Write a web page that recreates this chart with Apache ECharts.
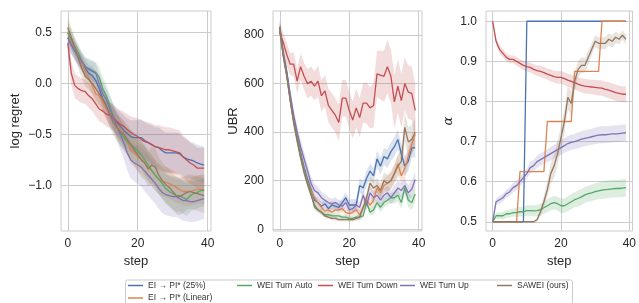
<!DOCTYPE html>
<html>
<head>
<meta charset="utf-8">
<script src="https://cdn.jsdelivr.net/npm/echarts@6/dist/echarts.min.js"></script>
<style>
  html, body { margin: 0; padding: 0; background: #fff; }
  #main { width: 639px; height: 303px; }
</style>
</head>
<body>
<div id="main"></div>
<script>
// steps 0..39
var steps = [0,1,2,3,4,5,6,7,8,9,10,11,12,13,14,15,16,17,18,19,20,21,22,23,24,25,26,27,28,29,30,31,32,33,34,35,36,37,38,39];
var names = ['EI \u2192 PI* (25%)', 'EI \u2192 PI* (Linear)', 'WEI Turn Auto', 'WEI Turn Down', 'WEI Turn Up', 'SAWEI (ours)'];
var colors = ['#4C72B0', '#DD8452', '#55A868', '#C44E52', '#8172B3', '#937860'];

// log regret (mean)
var regretEI25 = [0.45,0.38,0.32,0.26,0.2,0.15,0.1,0.08,0.03,-0.05,-0.15,-0.22,-0.3,-0.33,-0.38,-0.42,-0.46,-0.49,-0.52,-0.53,-0.53,-0.53,-0.56,-0.58,-0.6,-0.62,-0.63,-0.66,-0.68,-0.68,-0.68,-0.68,-0.69,-0.72,-0.74,-0.75,-0.76,-0.78,-0.79,-0.8];
var regretEILin = [0.5,0.42,0.34,0.27,0.2,0.12,0.05,-0.02,-0.1,-0.12,-0.18,-0.25,-0.3,-0.35,-0.4,-0.45,-0.5,-0.58,-0.65,-0.68,-0.72,-0.74,-0.78,-0.82,-0.86,-0.9,-0.94,-0.96,-0.97,-0.98,-1.0,-1.02,-1.04,-1.06,-1.06,-1.06,-1.05,-1.04,-1.04,-1.04];
var regretAuto = [0.5,0.43,0.36,0.3,0.22,0.16,0.15,0.13,0.11,0.06,-0.05,-0.12,-0.22,-0.32,-0.42,-0.48,-0.53,-0.57,-0.6,-0.63,-0.66,-0.7,-0.75,-0.8,-0.85,-0.9,-0.94,-0.98,-1.03,-1.06,-1.08,-1.1,-1.1,-1.12,-1.14,-1.1,-1.08,-1.07,-1.05,-1.05];
var regretDown = [0.4,0.1,-0.02,-0.05,-0.07,-0.08,-0.12,-0.15,-0.2,-0.25,-0.27,-0.3,-0.31,-0.34,-0.37,-0.4,-0.42,-0.45,-0.48,-0.5,-0.52,-0.55,-0.57,-0.58,-0.6,-0.62,-0.63,-0.64,-0.65,-0.65,-0.66,-0.67,-0.68,-0.72,-0.75,-0.78,-0.8,-0.83,-0.83,-0.83];
var regretUp = [0.45,0.38,0.32,0.27,0.22,0.17,0.14,0.12,0.1,0.0,-0.1,-0.16,-0.25,-0.33,-0.42,-0.5,-0.58,-0.68,-0.75,-0.78,-0.8,-0.82,-0.86,-0.9,-0.94,-0.98,-1.03,-1.07,-1.09,-1.1,-1.11,-1.11,-1.13,-1.15,-1.15,-1.16,-1.16,-1.15,-1.14,-1.13];
var regretSawei = [0.55,0.45,0.35,0.25,0.15,0.07,0.04,0.0,-0.05,-0.1,-0.15,-0.22,-0.3,-0.38,-0.43,-0.47,-0.5,-0.55,-0.6,-0.65,-0.7,-0.75,-0.78,-0.84,-0.8,-0.82,-0.9,-0.95,-0.99,-1.02,-1.06,-1.1,-1.11,-1.09,-1.07,-1.06,-1.07,-1.08,-1.09,-1.1];
// log regret (band half width)
var regretEI25Sd = [0.1,0.09,0.09,0.08,0.08,0.08,0.08,0.09,0.09,0.1,0.1,0.11,0.12,0.12,0.13,0.14,0.15,0.15,0.16,0.17,0.17,0.18,0.18,0.18,0.19,0.19,0.2,0.2,0.2,0.2,0.2,0.2,0.2,0.19,0.19,0.18,0.18,0.18,0.18,0.18];
var regretEILinSd = [0.1,0.09,0.08,0.08,0.08,0.08,0.08,0.09,0.09,0.1,0.1,0.1,0.11,0.11,0.12,0.12,0.13,0.13,0.14,0.14,0.14,0.15,0.15,0.15,0.15,0.15,0.15,0.15,0.15,0.15,0.15,0.15,0.14,0.14,0.14,0.14,0.14,0.14,0.14,0.14];
var regretAutoSd = [0.1,0.09,0.09,0.09,0.09,0.09,0.1,0.1,0.1,0.1,0.11,0.11,0.12,0.12,0.12,0.13,0.13,0.13,0.14,0.14,0.14,0.14,0.15,0.15,0.15,0.15,0.15,0.15,0.15,0.15,0.16,0.16,0.16,0.16,0.16,0.16,0.16,0.16,0.16,0.16];
var regretDownSd = [0.12,0.12,0.12,0.12,0.12,0.12,0.12,0.12,0.12,0.12,0.12,0.12,0.13,0.13,0.13,0.14,0.14,0.15,0.16,0.17,0.18,0.19,0.2,0.2,0.21,0.21,0.22,0.22,0.22,0.22,0.22,0.22,0.22,0.21,0.21,0.2,0.2,0.2,0.2,0.2];
var regretUpSd = [0.1,0.09,0.09,0.09,0.09,0.09,0.09,0.1,0.1,0.1,0.11,0.11,0.12,0.13,0.14,0.15,0.16,0.17,0.18,0.18,0.19,0.19,0.2,0.2,0.2,0.2,0.2,0.2,0.2,0.2,0.2,0.2,0.2,0.2,0.2,0.2,0.2,0.2,0.2,0.2];
var regretSaweiSd = [0.1,0.1,0.1,0.1,0.1,0.1,0.1,0.1,0.1,0.11,0.11,0.12,0.12,0.13,0.13,0.14,0.14,0.15,0.15,0.16,0.16,0.17,0.17,0.17,0.18,0.18,0.18,0.18,0.18,0.18,0.18,0.18,0.18,0.18,0.17,0.17,0.17,0.17,0.17,0.17];

// UBR (mean)
var ubrEI25 = [830,725,645,545,455,385,315,255,205,165,120,110,95,105,85,100,95,90,110,130,100,100,100,180,170,210,240,220,290,260,300,290,320,340,370,310,260,280,335,335];
var ubrEILin = [825,720,640,540,450,375,305,245,195,160,130,110,90,75,80,70,80,80,85,70,65,70,80,60,90,120,100,120,170,150,180,190,200,230,270,220,250,300,350,390];
var ubrAuto = [820,715,635,535,445,370,300,240,190,150,90,80,70,60,60,55,55,55,50,50,45,45,50,50,55,110,70,80,110,90,110,120,130,130,140,110,170,120,110,145];
var ubrDown = [810,770,720,680,680,610,670,630,600,610,590,610,550,570,510,490,470,440,540,540,490,450,500,460,520,520,500,510,640,635,630,670,630,525,590,530,600,565,560,490];
var ubrUp = [830,725,650,555,470,400,340,290,240,190,160,150,130,120,110,105,110,100,95,110,80,85,100,90,140,100,150,130,140,120,140,150,130,150,170,160,180,150,165,205];
var ubrSawei = [835,720,635,530,440,365,295,235,185,140,100,80,70,55,50,45,45,40,40,40,40,40,45,50,90,130,190,170,180,160,200,190,200,230,260,280,420,360,370,400];
// UBR (band half width)
var ubrEI25Sd = [30,25,25,25,25,25,25,25,22,20,18,18,18,18,18,18,18,20,20,22,22,25,25,30,30,30,32,32,35,35,35,38,38,40,40,40,40,40,40,40];
var ubrEILinSd = [30,25,25,25,25,25,25,22,20,18,15,15,15,15,15,15,15,15,15,15,15,15,18,18,20,22,22,25,28,28,30,32,32,35,38,38,40,40,42,42];
var ubrAutoSd = [30,25,25,25,25,22,20,18,15,12,12,10,10,10,10,10,10,10,10,10,10,10,10,12,12,15,15,18,18,20,20,22,22,25,25,25,28,28,30,30];
var ubrDownSd = [40,40,45,45,50,50,55,55,60,60,60,65,65,65,70,70,70,75,75,75,75,75,80,80,80,85,85,90,95,100,105,110,110,110,110,110,110,110,110,110];
var ubrUpSd = [30,30,30,30,30,30,30,30,30,28,28,25,25,25,22,22,22,22,22,22,20,20,20,20,22,22,25,25,25,25,28,28,28,30,30,30,32,32,35,35];
var ubrSaweiSd = [30,25,25,25,25,22,20,18,15,12,12,10,10,8,8,8,8,8,8,8,8,8,10,12,15,20,25,30,30,32,35,35,38,40,45,50,60,60,60,60];

// alpha (mean)
var alphaEI25 = [0.5,0.5,0.5,0.5,0.5,0.5,0.5,0.5,0.5,0.5,1,1,1,1,1,1,1,1,1,1,1,1,1,1,1,1,1,1,1,1,1,1,1,1,1,1,1,1,1,1];
var alphaEILin = [0.5,0.5,0.5,0.5,0.5,0.5,0.5,0.5,0.625,0.625,0.625,0.625,0.625,0.625,0.625,0.625,0.75,0.75,0.75,0.75,0.75,0.75,0.75,0.75,0.875,0.875,0.875,0.875,0.875,0.875,0.875,0.875,1,1,1,1,1,1,1,1];
var alphaAuto = [0.5,0.515,0.515,0.515,0.52,0.52,0.523,0.523,0.525,0.525,0.528,0.528,0.527,0.528,0.53,0.535,0.54,0.545,0.548,0.545,0.54,0.54,0.545,0.55,0.555,0.558,0.562,0.567,0.57,0.572,0.575,0.577,0.579,0.58,0.581,0.582,0.583,0.583,0.584,0.585];
var alphaDown = [1.0,0.95,0.93,0.92,0.91,0.905,0.905,0.9,0.895,0.89,0.887,0.885,0.88,0.877,0.875,0.872,0.868,0.865,0.862,0.86,0.86,0.857,0.853,0.85,0.847,0.843,0.84,0.838,0.837,0.836,0.835,0.834,0.833,0.83,0.828,0.825,0.822,0.82,0.818,0.818];
var alphaUp = [0.5,0.55,0.555,0.56,0.57,0.575,0.585,0.59,0.6,0.61,0.62,0.635,0.64,0.65,0.655,0.66,0.665,0.67,0.675,0.68,0.685,0.69,0.695,0.698,0.7,0.703,0.706,0.708,0.71,0.712,0.714,0.716,0.717,0.717,0.718,0.719,0.719,0.72,0.721,0.722];
var alphaSawei = [0.5,0.5,0.5,0.5,0.5,0.5,0.5,0.5,0.5,0.5,0.5,0.5,0.5,0.505,0.525,0.55,0.58,0.62,0.64,0.67,0.71,0.75,0.81,0.795,0.85,0.88,0.89,0.89,0.91,0.93,0.95,0.945,0.945,0.945,0.955,0.95,0.96,0.955,0.965,0.955];
// alpha (band half width)
var alphaAutoSd = [0.005,0.008,0.008,0.01,0.01,0.01,0.01,0.012,0.012,0.012,0.013,0.013,0.014,0.014,0.015,0.015,0.016,0.016,0.017,0.017,0.018,0.018,0.018,0.019,0.019,0.02,0.02,0.02,0.02,0.021,0.021,0.021,0.022,0.022,0.022,0.022,0.022,0.022,0.022,0.022];
var alphaDownSd = [0.002,0.008,0.01,0.01,0.01,0.01,0.01,0.011,0.011,0.012,0.012,0.012,0.013,0.013,0.014,0.014,0.014,0.015,0.015,0.015,0.016,0.016,0.016,0.017,0.017,0.017,0.018,0.018,0.018,0.018,0.019,0.019,0.019,0.019,0.02,0.02,0.02,0.02,0.02,0.02];
var alphaUpSd = [0.002,0.008,0.01,0.01,0.01,0.011,0.011,0.012,0.012,0.013,0.013,0.014,0.014,0.015,0.015,0.016,0.016,0.017,0.017,0.018,0.018,0.018,0.019,0.019,0.019,0.02,0.02,0.02,0.02,0.02,0.021,0.021,0.021,0.021,0.021,0.021,0.021,0.021,0.021,0.021];
var alphaSaweiSd = [0,0,0,0,0,0,0,0,0,0,0,0,0.002,0.005,0.01,0.015,0.02,0.025,0.03,0.03,0.03,0.03,0.03,0.03,0.025,0.02,0.02,0.018,0.018,0.015,0.015,0.015,0.015,0.015,0.015,0.015,0.015,0.012,0.012,0.012];

var regretTicks = [-1.0, -0.5, 0.0, 0.5];
var ubrTicks = [0, 200, 400, 600, 800];
var alphaTicks = [0.5, 0.6, 0.7, 0.8, 0.9, 1.0];
var stepTicks = [0, 20, 40];

var font = 'Liberation Sans, Arial, sans-serif';
var ink = '#262626';
var gridColor = '#cccccc';

function pairs(ys) {
  return steps.map(function (s, i) { return [s, ys[i]]; });
}

var series = [];

// filled band between mean-half and mean+half, drawn as one polygon
function addBand(panel, k, mean, half) {
  var rows = steps.map(function (s, i) { return [s, mean[i] - half[i], mean[i] + half[i]]; });
  series.push({
    type: 'custom', xAxisIndex: panel, yAxisIndex: panel,
    silent: true, z: 1, clip: true,
    encode: { x: 0, y: [1, 2] },
    data: rows,
    renderItem: function (params, api) {
      if (params.dataIndex !== 0) return;
      var pts = [];
      rows.forEach(function (r) { pts.push(api.coord([r[0], r[2]])); });
      for (var i = rows.length - 1; i >= 0; i--) pts.push(api.coord([rows[i][0], rows[i][1]]));
      return {
        type: 'polygon',
        shape: { points: pts },
        style: { fill: colors[k], opacity: 0.2 }
      };
    }
  });
}

function addLine(panel, k, mean) {
  series.push({
    name: names[k], type: 'line', xAxisIndex: panel, yAxisIndex: panel,
    symbol: 'none', z: 3, color: colors[k],
    lineStyle: { width: 1.3, color: colors[k] },
    data: pairs(mean)
  });
}

var regretMeans = [regretEI25, regretEILin, regretAuto, regretDown, regretUp, regretSawei];
var regretSds = [regretEI25Sd, regretEILinSd, regretAutoSd, regretDownSd, regretUpSd, regretSaweiSd];
var ubrMeans = [ubrEI25, ubrEILin, ubrAuto, ubrDown, ubrUp, ubrSawei];
var ubrSds = [ubrEI25Sd, ubrEILinSd, ubrAutoSd, ubrDownSd, ubrUpSd, ubrSaweiSd];
var alphaMeans = [alphaEI25, alphaEILin, alphaAuto, alphaDown, alphaUp, alphaSawei];
var alphaSds = [null, null, alphaAutoSd, alphaDownSd, alphaUpSd, alphaSaweiSd];

for (var k = 0; k < 6; k++) {
  addBand(0, k, regretMeans[k], regretSds[k]);
  addBand(1, k, ubrMeans[k], ubrSds[k]);
  if (alphaSds[k]) addBand(2, k, alphaMeans[k], alphaSds[k]);
}
for (var k = 0; k < 6; k++) {
  addLine(0, k, regretMeans[k]);
  addLine(1, k, ubrMeans[k]);
  addLine(2, k, alphaMeans[k]);
}

function minus(s) { return s.replace('-', '\u2212'); }

function xAxis(i) {
  return {
    type: 'value', gridIndex: i, min: -1.95, max: 40.95,
    name: 'step', nameLocation: 'middle', nameGap: 22,
    nameTextStyle: { fontFamily: font, fontSize: 13, color: ink },
    axisLine: { show: false },
    axisTick: { show: false, customValues: stepTicks },
    axisLabel: { customValues: stepTicks, margin: 7, fontFamily: font, fontSize: 12, color: ink },
    splitLine: { show: true, lineStyle: { color: gridColor, width: 1 } }
  };
}

function yAxis(i, min, max, ticks, name, gap, fmt, nameStyle) {
  return {
    type: 'value', gridIndex: i, min: min, max: max,
    name: name, nameLocation: 'middle', nameGap: gap,
    nameTextStyle: Object.assign({ fontFamily: font, fontSize: 13, color: ink }, nameStyle || {}),
    axisLine: { show: false },
    axisTick: { show: false, customValues: ticks },
    axisLabel: { customValues: ticks, margin: 9, fontFamily: font, fontSize: 12, color: ink, formatter: fmt },
    splitLine: { show: true, lineStyle: { color: gridColor, width: 1 } }
  };
}

function legendItem(left, top, name) {
  return {
    left: left, top: top, orient: 'horizontal',
    data: [name], icon: 'rect', itemWidth: 15, itemHeight: 1.5,
    selectedMode: false, padding: 0,
    textStyle: { fontFamily: font, fontSize: 8.5, color: '#333' }
  };
}

var chart = echarts.init(document.getElementById('main'), null, { renderer: 'canvas' });
chart.setOption({
  animation: false,
  backgroundColor: '#fff',
  grid: [
    { left: 61, top: 11, width: 150, height: 220, show: true, borderColor: gridColor, borderWidth: 1 },
    { left: 273, top: 11, width: 149, height: 220, show: true, borderColor: gridColor, borderWidth: 1 },
    { left: 486, top: 11, width: 147, height: 220, show: true, borderColor: gridColor, borderWidth: 1 }
  ],
  xAxis: [xAxis(0), xAxis(1), xAxis(2)],
  yAxis: [
    yAxis(0, -1.448, 0.713, regretTicks, 'log regret', 39, function (v) { return minus(v.toFixed(1)); }),
    yAxis(1, -7, 899, ubrTicks, 'UBR', 33, function (v) { return String(Math.round(v)); }),
    yAxis(2, 0.477, 1.0255, alphaTicks, '\u03b1', 31, function (v) { return v.toFixed(1); },
      { fontFamily: 'DejaVu Serif', fontStyle: 'italic', fontSize: 13 })
  ],
  legend: [
    legendItem(128, 281, names[0]),
    legendItem(128, 293.5, names[1]),
    legendItem(237, 281, names[2]),
    legendItem(318, 281, names[3]),
    legendItem(400, 281, names[4]),
    legendItem(497, 281, names[5])
  ],
  graphic: [{
    type: 'rect', left: 125, top: 279.5, z: -1,
    shape: { width: 447, height: 30, r: 2 },
    style: { fill: '#fff', stroke: gridColor, lineWidth: 1 }
  }],
  series: series
});
</script>
</body>
</html>
